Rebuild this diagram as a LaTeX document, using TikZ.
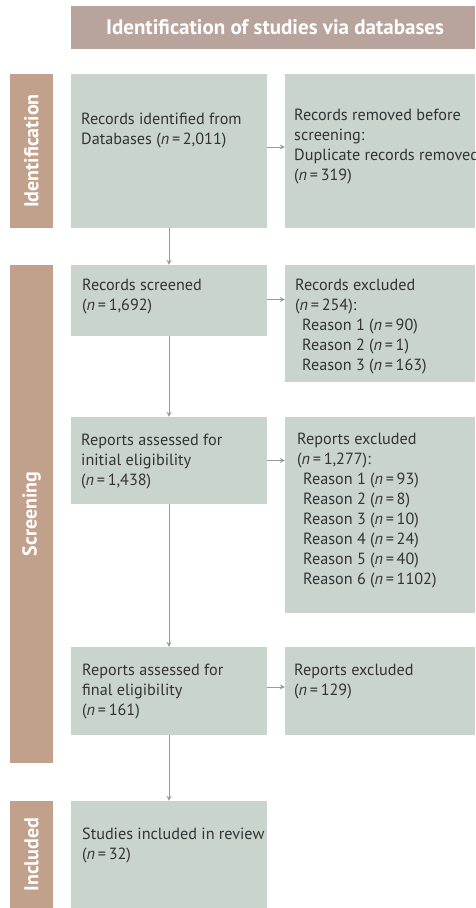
\documentclass[tikz,border=0pt]{standalone}
\usepackage{fontspec}
\setmainfont{PT Sans}
\usetikzlibrary{arrows.meta,fit}
\definecolor{boxgreen}{HTML}{C9D4CC}
\definecolor{labelbrown}{HTML}{C1A18B}
\definecolor{titlebg}{HTML}{B9A39D}
\definecolor{txtcol}{HTML}{333333}
\definecolor{arrcol}{HTML}{9A9A9A}
\newcommand{\nn}[1]{(\textit{n}\,=\,#1)}
\begin{document}
\begin{tikzpicture}[x=1pt,y=-1pt,
  box/.style={fill=boxgreen, draw=none, inner sep=0pt},
  lab/.style={fill=labelbrown, draw=none, inner sep=0pt},
  titlebox/.style={fill=titlebg, draw=none, inner sep=0pt},
  txt/.style={text=txtcol, inner sep=0pt, align=left, font=\fontsize{16.2}{20}\selectfont},
  labtxt/.style={text=white, inner sep=0pt, rotate=90, font=\fontsize{20}{22}\selectfont\bfseries},
  titletxt/.style={text=white, inner sep=0pt, font=\fontsize{21}{24}\selectfont\bfseries},
  arr/.style={draw=arrcol, line width=0.8pt, -{Stealth[length=5pt,width=5pt]}}]
\useasboundingbox (0,0) rectangle (475,908);
\clip (0,0) rectangle (475,908);
% title
\node[titlebox, fit={(71,6) (475,49)}] (title) {};
\node[titletxt] (titletext) at ([xshift=2pt]title.center) {Identification of studies via databases};
% side labels
\node[lab, fit={(10,74) (53,228)}] (l1) {};
\node[labtxt] (l1t) at (l1.center) {Identification};
\node[lab, fit={(10,265) (53,763)}] (l2) {};
\node[labtxt] (l2t) at (l2.center) {Screening};
\node[lab, fit={(10,801) (53,908)}] (l3) {};
\node[labtxt] (l3t) at (l3.center) {Included};
% left boxes
\node[box, fit={(71,74) (267,228)}] (b1) {};
\node[box, fit={(71,265) (267,336)}] (b2) {};
\node[box, fit={(71,417) (267,504)}] (b3) {};
\node[box, fit={(71,647) (267,735)}] (b4) {};
\node[box, fit={(71,801) (267,908)}] (b5) {};
% right boxes
\node[box, fit={(285,74) (475,228)}] (r1) {};
\node[box, fit={(285,265) (475,382)}] (r2) {};
\node[box, fit={(285,417) (475,613)}] (r3) {};
\node[box, fit={(285,647) (475,735)}] (r4) {};
% texts (anchored at the baseline of the last line)
\node[txt, anchor=base west] (b1t) at (81,144) {Records identified from\\Databases \nn{2,011}};
\node[txt, anchor=base west] (r1t) at (294,180) {Records removed before\\screening:\\Duplicate records removed\\\nn{319}};
\node[txt, anchor=base west] (b2t) at (82,310) {Records screened\\\nn{1,692}};
\node[txt, anchor=base west] (r2t) at (295,370) {Records excluded\\\nn{254}:\\\hspace*{7pt}Reason 1 \nn{90}\\\hspace*{7pt}Reason 2 \nn{1}\\\hspace*{7pt}Reason 3 \nn{163}};
\node[txt, anchor=base west] (b3t) at (81,485) {Reports assessed for\\initial eligibility\\\nn{1,438}};
\node[txt, anchor=base west] (r3t) at (297,584) {Reports excluded\\\nn{1,277}:\\\hspace*{6pt}Reason 1 \nn{93}\\\hspace*{6pt}Reason 2 \nn{8}\\\hspace*{6pt}Reason 3 \nn{10}\\\hspace*{6pt}Reason 4 \nn{24}\\\hspace*{6pt}Reason 5 \nn{40}\\\hspace*{6pt}Reason 6 \nn{1102}};
\node[txt, anchor=base west] (b4t) at (82,715) {Reports assessed for\\final eligibility\\\nn{161}};
\node[txt, anchor=base west] (r4t) at (294,695) {Reports excluded\\\nn{129}};
\node[txt, anchor=base west] (b5t) at (82,859) {Studies included in review\\\nn{32}};
% connectors
\draw[arr] (b1) -- (b2);
\draw[arr] (b2) -- (b3);
\draw[arr] (b3) -- (b4);
\draw[arr] (b4) -- (b5);
\draw[arr] ([yshift=4pt]b1.east) -- ([yshift=4pt]b1.east -| r1.west);
\draw[arr] ([yshift=1pt]b2.east) -- ([yshift=1pt]b2.east -| r2.west);
\draw[arr] (b3.east) -- (b3.east -| r3.west);
\draw[arr] ([yshift=4pt]b4.east) -- ([yshift=4pt]b4.east -| r4.west);
\end{tikzpicture}
\end{document}
